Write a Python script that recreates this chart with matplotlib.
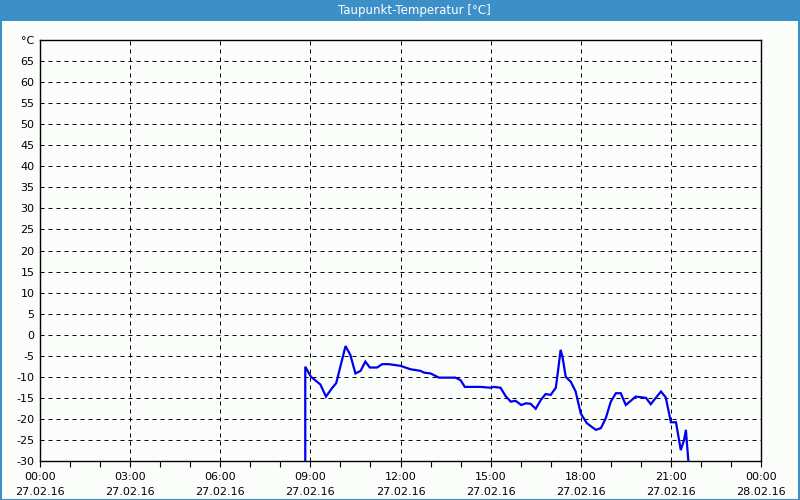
import matplotlib
matplotlib.use("Agg")
import matplotlib.pyplot as plt
from matplotlib.patches import Rectangle

title = "Taupunkt-Temperatur [°C]"
unit_label = "°C"

# time in hours since 27.02.16 00:00
hours = [8.83, 8.83, 9.02, 9.33, 9.52, 9.72, 9.86, 10.17, 10.33, 10.50, 10.67,
         10.83, 10.98, 11.22, 11.39, 11.61, 12.00, 12.33, 12.67, 12.78, 13.00,
         13.28, 13.83, 14.00, 14.14, 14.67, 15.00, 15.11, 15.33, 15.50, 15.67,
         15.83, 16.02, 16.17, 16.33, 16.50, 16.67, 16.83, 17.00, 17.17, 17.24,
         17.33, 17.39, 17.50, 17.67, 17.83, 18.00, 18.20, 18.50, 18.67, 18.83,
         19.00, 19.17, 19.33, 19.50, 19.83, 20.17, 20.33, 20.67, 20.83, 21.00,
         21.17, 21.33, 21.44, 21.50, 21.53, 21.58, 21.62]
dewpoint = [-40.0, -7.6, -10.0, -11.8, -14.7, -12.7, -11.5, -2.7, -4.8, -9.2, -8.6,
            -6.4, -7.8, -7.8, -7.0, -7.0, -7.4, -8.2, -8.6, -9.0, -9.2,
            -10.2, -10.2, -10.8, -12.4, -12.4, -12.6, -12.4, -12.6, -14.6, -15.9,
            -15.7, -16.7, -16.3, -16.4, -17.6, -15.5, -14.1, -14.3, -12.6, -8.8,
            -3.6, -5.2, -10.0, -11.2, -13.5, -18.7, -21.0, -22.6, -22.2, -19.9,
            -15.9, -13.9, -13.9, -16.7, -14.7, -15.0, -16.5, -13.5, -14.9, -20.8,
            -20.8, -27.4, -25.0, -22.6, -25.4, -29.8, -33.0]

major_hours = [0, 3, 6, 9, 12, 15, 18, 21, 24]
tick_labels = ["00:00\n27.02.16", "03:00\n27.02.16", "06:00\n27.02.16",
               "09:00\n27.02.16", "12:00\n27.02.16", "15:00\n27.02.16",
               "18:00\n27.02.16", "21:00\n27.02.16", "00:00\n28.02.16"]
y_ticks = list(range(-30, 70, 5))

bg = "#fbfdfb"
fig = plt.figure(figsize=(8, 5), dpi=100, facecolor=bg)

# title bar
fig.patches.append(Rectangle((0, 1 - 21 / 500), 1, 21 / 500, transform=fig.transFigure,
                             facecolor="#3c8fc7", edgecolor="none", zorder=0))
# border
fig.patches.append(Rectangle((0.5 / 800, 0.5 / 500), 1 - 1.5 / 800, 1 - 1 / 500,
                             transform=fig.transFigure, facecolor="none",
                             edgecolor="#3c8fc7", linewidth=1.5, zorder=0))
fig.text(414 / 800, 1 - 10.5 / 500, title, color="white", ha="center", va="center",
         fontsize=8.5, fontfamily="DejaVu Sans")

ax = fig.add_axes([40 / 800, 39 / 500, 721 / 800, 421 / 500])
ax.set_facecolor(bg)
ax.plot(hours, dewpoint, color="#0000f0", linewidth=1.6, solid_joinstyle="miter", zorder=3)
ax.set_xlim(0, 24)
ax.set_ylim(-30, 70)

ax.set_xticks(major_hours)
ax.set_xticklabels(tick_labels, fontsize=8, linespacing=1.65)
ax.set_xticks(range(0, 25), minor=True)
ax.tick_params(axis="x", which="both", direction="out", length=4, width=0.8, pad=4)

ax.set_yticks(y_ticks + [70])
ax.set_yticklabels([str(v) for v in y_ticks] + [unit_label], fontsize=8)
ax.tick_params(axis="y", length=0, pad=4)

for v in y_ticks[1:]:
    ax.axhline(v, color="black", linewidth=0.72, linestyle=(0, (4, 4)), zorder=1)
for h in major_hours[1:-1]:
    ax.axvline(h, color="black", linewidth=0.72, linestyle=(0, (4, 4)), zorder=1)

for s in ax.spines.values():
    s.set_linewidth(1.0)
    s.set_color("black")

fig.savefig("out.png", dpi=100, facecolor=bg)
